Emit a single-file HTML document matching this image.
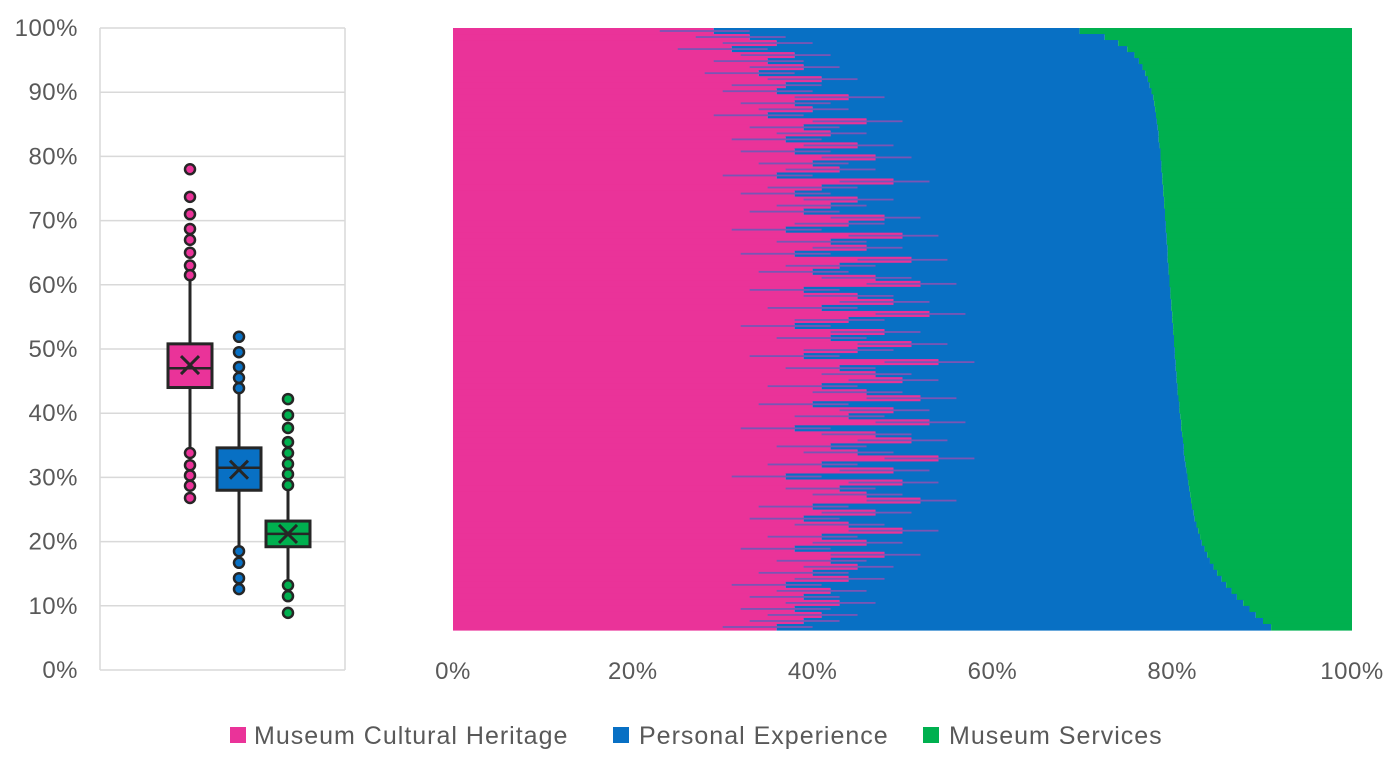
<!DOCTYPE html>
<html><head><meta charset="utf-8"><style>
body{margin:0;background:#fff;width:1400px;height:760px;overflow:hidden;font-family:"Liberation Sans",sans-serif}
</style></head><body>
<svg id="c" width="1400" height="760" style="font-family:'Liberation Sans',sans-serif">
<g id="box"></g>
<g id="bars"></g>
<g id="legend" font-size="25" letter-spacing="1" fill="#595959">
<rect x="230" y="727" width="16" height="16" fill="#EA3399"/>
<text x="254" y="744">Museum Cultural Heritage</text>
<rect x="613" y="727" width="16" height="16" fill="#0870C4"/>
<text x="639" y="744">Personal Experience</text>
<rect x="923" y="727" width="16" height="16" fill="#00B04F"/>
<text x="949" y="744">Museum Services</text>
</g>
</svg>
<script>
const NS="http://www.w3.org/2000/svg";
const colors=["#EA3399","#0870C4","#00B04F"];
const boxCats=["Museum Cultural Heritage","Personal Experience","Museum Services"];
const boxQ1=[44,28,19.2];
const boxMed=[47,31.5,21.2];
const boxQ3=[50.8,34.6,23.2];
const boxMean=[47.5,31.2,21.2];
const whiskLo=[33.8,19,13.2];
const whiskHi=[60.7,43,28.5];
const outliers=[[78,73.7,71,68.7,67,65,63,61.5,31.9,30.3,28.7,26.8,33.8],[51.9,49.5,47.2,45.5,43.9,18.5,16.7,14.3,12.6],[42.2,39.7,37.7,35.5,33.8,32.1,30.5,28.8,13.2,11.5,8.9]];
const yTicks=[0,10,20,30,40,50,60,70,80,90,100];
const xTicks=[0,20,40,60,80,100];
const heritage=[29,33,36,31,38,35,39,34,41,37,36,44,38,40,35,46,39,42,37,45,38,47,40,43,36,49,41,38,45,42,39,48,44,37,50,42,46,38,51,43,40,47,52,39,45,49,41,53,44,38,48,42,51,45,39,54,43,47,50,41,46,52,40,49,44,53,38,47,51,42,45,54,41,49,37,50,43,46,52,40,47,39,44,50,41,46,38,48,42,45,40,44,37,42,39,43,38,41,39,36];
const heritagePlusExp=[69.7,72.5,74,75,75.8,76.3,76.7,77,77.3,77.5,77.7,77.9,78,78.1,78.2,78.3,78.4,78.5,78.5,78.6,78.7,78.7,78.8,78.8,78.9,78.9,79,79,79.1,79.1,79.2,79.2,79.3,79.3,79.4,79.4,79.5,79.5,79.5,79.6,79.6,79.7,79.7,79.8,79.8,79.9,79.9,80,80,80.1,80.1,80.2,80.2,80.3,80.3,80.4,80.4,80.5,80.5,80.6,80.6,80.7,80.8,80.8,80.9,81,81,81.1,81.2,81.3,81.3,81.4,81.5,81.6,81.7,81.8,81.9,82,82.1,82.2,82.4,82.5,82.7,82.9,83.1,83.3,83.6,83.9,84.2,84.6,85,85.5,86,86.6,87.2,87.9,88.6,89.3,90.1,91];
function mk(tag,attrs,parent){const e=document.createElementNS(NS,tag);for(const k in attrs)e.setAttribute(k,attrs[k]);parent.appendChild(e);return e;}
const bp=document.getElementById('box');
const yB=v=>670-v*6.42;
const xB=i=>190+i*49;
yTicks.forEach(t=>{
 const l=mk('line',{x1:100,x2:345,y1:yB(t),y2:yB(t),stroke:'#d9d9d9','stroke-width':1.5},bp);
 
 
 const tx=mk('text',{x:78,y:yB(t)+8,'text-anchor':'end','font-size':24,'letter-spacing':0.5,fill:'#595959'},bp);
 tx.textContent=t+'%';
 
 
});
mk('line',{x1:100,x2:100,y1:yB(100),y2:670,stroke:'#d9d9d9','stroke-width':1.5},bp);
mk('line',{x1:345,x2:345,y1:yB(100),y2:670,stroke:'#d9d9d9','stroke-width':1.5},bp);
boxCats.forEach((c,i)=>{
 const cx=xB(i),g=mk('g',{},bp);
 
 
 mk('line',{x1:cx,x2:cx,y1:yB(whiskHi[i]),y2:yB(whiskLo[i]),stroke:'#262626','stroke-width':3},g);
 mk('rect',{x:cx-22,y:yB(boxQ3[i]),width:44,height:yB(boxQ1[i])-yB(boxQ3[i]),fill:colors[i],stroke:'#262626','stroke-width':3},g);
 mk('line',{x1:cx-22,x2:cx+22,y1:yB(boxMed[i]),y2:yB(boxMed[i]),stroke:'#262626','stroke-width':2.5},g);
 const my=yB(boxMean[i]);
 mk('path',{d:`M${cx-9} ${my-9}L${cx+9} ${my+9}M${cx+9} ${my-9}L${cx-9} ${my+9}`,stroke:'#262626','stroke-width':3},g);
 outliers[i].forEach(v=>{
  const o=mk('circle',{cx:cx,cy:yB(v),r:5,fill:colors[i],stroke:'#262626','stroke-width':2.5},g);
  
  
 });
});
const sp=document.getElementById('bars');
const x0=453,x1=1352,yTop=28,yBot=630;
const xS=v=>x0+(x1-x0)*v/100;
const rh=(yBot-yTop)/heritage.length;
heritage.forEach((h,i)=>{
 const y=yTop+i*rh;
 const a=mk('rect',{x:xS(0),y:y,width:xS(h)-xS(0),height:rh+0.6,fill:colors[0]},sp);
 
 
 const b=mk('rect',{x:xS(h),y:y,width:xS(heritagePlusExp[i])-xS(h),height:rh+0.6,fill:colors[1]},sp);
 
 
 const c=mk('rect',{x:xS(heritagePlusExp[i]),y:y,width:xS(100)-xS(heritagePlusExp[i]),height:rh+0.6,fill:colors[2]},sp);
 
 
 const s=mk('rect',{x:xS(h-6),y:y+rh*0.35,width:xS(h+4)-xS(h-6),height:rh*0.3,fill:'#7a55b5'},sp);
 
 
});
xTicks.forEach(t=>{
 const tx=mk('text',{x:xS(t),y:679,'text-anchor':'middle','font-size':24,'letter-spacing':0.5,fill:'#595959'},sp);
 tx.textContent=t+'%';
 
 
});
</script>
</body></html>
